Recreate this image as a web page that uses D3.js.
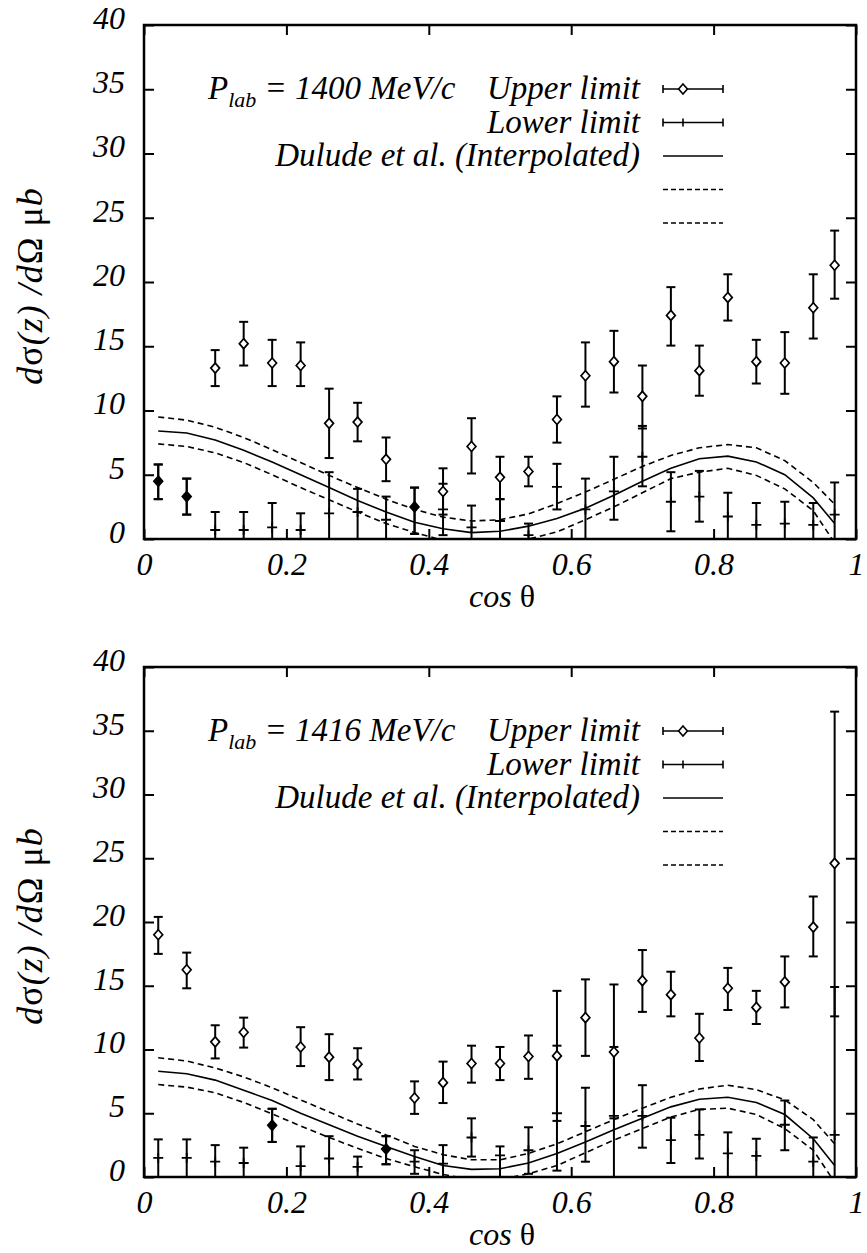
<!DOCTYPE html>
<html><head><meta charset="utf-8">
<script src="https://cdn.jsdelivr.net/npm/d3@7"></script>
<style>body{margin:0;background:#fff;} svg{display:block;}</style>
</head><body>
<svg id="chart" width="867" height="1253"></svg>
<script>
// ---------- shared axes ----------
const cosTheta = [0.02,0.06,0.10,0.14,0.18,0.22,0.26,0.30,0.34,0.38,0.42,0.46,0.50,0.54,0.58,0.62,0.66,0.70,0.74,0.78,0.82,0.86,0.90,0.94,0.97];
const xTicks = [0,0.2,0.4,0.6,0.8,1];
const xTickLabels = ["0","0.2","0.4","0.6","0.8","1"];
const yTicks = [0,5,10,15,20,25,30,35,40];
const yTickLabels = ["0","5","10","15","20","25","30","35","40"];
const legendLabels = ["Upper limit","Lower limit","Dulude et al. (Interpolated)","",""];

// ---------- panel A : 1400 MeV/c ----------
const upperA    = [4.5,3.3,13.3,15.2,13.7,13.5,9.0,9.1,6.2,2.5,3.7,7.2,4.8,5.25,9.3,12.7,13.8,11.1,17.4,13.1,18.8,13.8,13.7,18.0,21.3];
const upperA_lo = [3.1,1.9,11.9,13.5,11.9,11.9,6.3,7.6,4.5,0.4,1.9,5.1,3.1,4.1,7.5,10.3,11.4,8.6,15.05,11.15,17.0,12.1,11.3,15.6,18.7];
const upperA_hi = [5.8,4.7,14.7,16.9,15.5,15.3,11.7,10.6,7.9,4.0,5.5,9.4,6.4,6.4,11.1,15.3,16.2,13.5,19.6,15.05,20.6,15.5,16.1,20.6,24.0];
const lowerA    = [4.5,3.3,0.7,0.7,0.9,0.7,2.0,2.1,1.5,2.5,2.3,0.9,1.4,0.3,4.05,2.3,3.7,6.4,2.9,3.3,1.75,1.1,1.2,1.1,1.9];
const lowerA_lo = [3.1,1.9,0,0,0,0,0,0,0,0.4,0.3,0,0,0,2.3,0,1.5,4.1,0.6,1.35,0,0,0,0,0];
const lowerA_hi = [5.8,4.7,2.1,2.1,2.8,2.0,5.2,3.9,3.3,4.0,4.3,2.6,3.1,1.2,5.85,4.7,6.4,8.8,5.2,5.3,3.6,2.8,2.9,2.8,4.4];
const dulA      = [8.4,8.25,7.7,6.9,6.0,5.0,4.0,3.0,2.1,1.3,0.8,0.5,0.6,1.0,1.6,2.4,3.4,4.5,5.5,6.25,6.45,6.0,5.0,3.2,1.2];
const dulA_hi   = [9.5,9.25,8.7,7.9,6.95,5.95,4.95,4.0,3.1,2.3,1.7,1.4,1.5,1.95,2.75,3.65,4.65,5.65,6.5,7.1,7.35,7.1,6.1,4.4,2.7];
const dulA_lo   = [7.4,7.2,6.7,5.95,5.0,4.0,3.05,2.1,1.2,0.5,-0.1,-0.4,-0.4,0.0,0.55,1.5,2.5,3.6,4.7,5.2,5.5,4.95,3.9,2.2,-0.3];

// ---------- panel B : 1416 MeV/c ----------
const upperB    = [19.0,16.25,10.6,11.35,4.05,10.2,9.4,8.85,2.2,6.2,7.4,8.9,8.9,9.45,9.5,12.5,9.8,15.4,14.3,10.9,14.8,13.3,15.3,19.6,24.6];
const upperB_lo = [17.5,14.8,9.3,10.15,2.75,8.7,7.6,7.65,1.0,4.95,5.8,7.4,7.6,7.7,4.4,9.5,4.6,12.95,12.6,9.1,13.1,12.0,13.3,17.3,12.6];
const upperB_hi = [20.4,17.6,11.9,12.5,5.35,11.75,11.2,10.1,3.2,7.5,9.05,10.3,10.2,11.1,14.6,15.5,15.1,17.8,16.1,12.8,16.4,14.6,17.3,22.0,36.5];
const lowerB    = [1.5,1.5,1.2,1.1,4.05,0.85,1.45,0.8,2.2,1.2,1.05,3.1,1.7,2.1,5.0,4.0,4.8,4.8,2.9,3.3,1.85,1.65,4.1,1.2,3.3];
const lowerB_lo = [0,0,0,0,2.75,0,0,0,1.0,0.25,0,1.6,0,0.25,0.5,1.2,0,2.3,1.1,1.45,0,0,2.1,0,0];
const lowerB_hi = [2.95,2.95,2.5,2.3,5.35,2.4,3.2,1.6,3.2,2.1,2.5,4.6,2.4,3.9,10.3,7.0,10.2,7.2,4.65,5.3,3.5,3.0,6.0,3.1,14.9];
const dulB      = [8.3,8.1,7.6,6.8,6.0,5.0,4.1,3.2,2.4,1.6,0.9,0.6,0.65,1.1,1.85,2.75,3.7,4.6,5.5,6.1,6.25,5.85,4.9,3.0,0.9];
const dulB_hi   = [9.35,9.1,8.55,7.85,7.0,6.05,5.1,4.15,3.3,2.4,1.75,1.35,1.35,1.85,2.6,3.55,4.5,5.4,6.25,6.9,7.2,6.85,6.05,4.5,2.6];
const dulB_lo   = [7.25,7.05,6.6,5.85,4.95,4.0,3.1,2.25,1.45,0.8,0.2,-0.2,-0.2,0.25,0.9,1.9,2.9,3.8,4.7,5.3,5.4,4.9,3.8,2.1,-0.4];

const FONT = "'Liberation Serif','Times New Roman',serif";
const svg = d3.select("#chart");

function makeRows(u,ul,uh,l,ll,lh){
  return cosTheta.map((c,i)=>({c, u:u[i], ul:ul[i], uh:uh[i], l:l[i], ll:ll[i], lh:lh[i]}));
}

function drawPanel(cfg){
  const {top, bottom, label, rows, dul, dulHi, dulLo, id} = cfg;
  const left = 144, right = 856;
  const x = d3.scaleLinear().domain([0,1]).range([left,right]);
  const y = d3.scaleLinear().domain([0,40]).range([bottom,top]);
  const g = svg.append("g");

  g.append("clipPath").attr("id","clip"+id).append("rect")
    .attr("x",left).attr("y",top).attr("width",right-left).attr("height",bottom-top);

  // axes
  const axB = d3.axisBottom(x).tickValues(xTicks).tickFormat((d,i)=>xTickLabels[i]).tickSize(-10).tickPadding(13);
  const axT = d3.axisTop(x).tickValues(xTicks).tickFormat("").tickSize(-10);
  const axL = d3.axisLeft(y).tickValues(yTicks).tickFormat((d,i)=>yTickLabels[i]).tickSize(-10).tickPadding(19);
  const axR = d3.axisRight(y).tickValues(yTicks).tickFormat("").tickSize(-10);
  const gb = g.append("g").attr("transform",`translate(0,${bottom})`).call(axB);
  const gt = g.append("g").attr("transform",`translate(0,${top})`).call(axT);
  const gl = g.append("g").attr("transform",`translate(${left},0)`).call(axL);
  const gr = g.append("g").attr("transform",`translate(${right},0)`).call(axR);
  [gb,gt,gl,gr].forEach(a=>{
    a.select(".domain").remove();
    a.selectAll(".tick line").attr("stroke","#000").attr("stroke-width",2);
    a.selectAll(".tick text").attr("fill","#000").style("font-family",FONT)
      .style("font-style","italic").style("font-size","32px");
  });
  gl.selectAll(".tick text").attr("y",-7);

  // frame
  g.append("rect").attr("x",left).attr("y",top).attr("width",right-left).attr("height",bottom-top)
    .attr("fill","none").attr("stroke","#000").attr("stroke-width",2.5);

  // axis titles
  g.append("text").attr("x",(left+right)/2+2).attr("y",bottom+68).attr("text-anchor","middle")
    .style("font-family",FONT).style("font-size","32px")
    .call(t=>{ t.append("tspan").style("font-style","italic").text("cos "); t.append("tspan").text("θ"); });

  const yt = g.append("text").attr("transform",`translate(42,${(top+bottom)/2+4}) rotate(-90)`)
    .attr("text-anchor","middle").style("font-family",FONT).style("font-size","36px")
    .style("letter-spacing","1px");
  yt.append("tspan").style("font-style","italic").text("d");
  yt.append("tspan").text("σ");
  yt.append("tspan").style("font-style","italic").text("(z) /d");
  yt.append("tspan").text("Ω μ");
  yt.append("tspan").style("font-style","italic").text("b");

  // curves
  const cg = g.append("g").attr("clip-path",`url(#clip${id})`);
  const line = d3.line().x(d=>x(d[0])).y(d=>y(d[1]));
  const curves = [
    {v:dul, dash:null},
    {v:dulHi, dash:"6,4"},
    {v:dulLo, dash:"6,4"}
  ];
  curves.forEach(cv=>{
    cg.append("path").datum(cosTheta.map((c,i)=>[c,cv.v[i]]))
      .attr("d",line).attr("fill","none").attr("stroke","#000").attr("stroke-width",1.6)
      .attr("stroke-dasharray",cv.dash);
  });

  // error bars
  const cap = 4.5;
  const eg = g.append("g").attr("clip-path",`url(#clip${id})`).attr("stroke","#000").attr("stroke-width",2).attr("fill","none");
  function bars(acc){
    const b = eg.append("g").selectAll("g").data(rows).join("g");
    b.append("line").attr("x1",d=>x(d.c)).attr("x2",d=>x(d.c)).attr("y1",d=>y(acc(d)[0])).attr("y2",d=>y(acc(d)[1]));
    b.append("line").attr("x1",d=>x(d.c)-cap).attr("x2",d=>x(d.c)+cap).attr("y1",d=>y(acc(d)[0])).attr("y2",d=>y(acc(d)[0]));
    b.append("line").attr("x1",d=>x(d.c)-cap).attr("x2",d=>x(d.c)+cap).attr("y1",d=>y(acc(d)[1])).attr("y2",d=>y(acc(d)[1]));
  }
  bars(d=>[d.ll,d.lh]);
  bars(d=>[d.ul,d.uh]);
  const diamond = (cx,cy)=>`M${cx},${cy-5}L${cx+4.4},${cy}L${cx},${cy+5}L${cx-4.4},${cy}Z`;
  eg.append("g").selectAll("path").data(rows).join("path")
    .attr("d",d=>diamond(x(d.c),y(d.u)))
    .attr("fill",d=>d.l===d.u ? "#000" : "#fff").attr("stroke-width",1.7);
  eg.append("g").selectAll("path").data(rows.filter(d=>d.l!==d.u)).join("path")
    .attr("d",d=>`M${x(d.c)-5},${y(d.l)}H${x(d.c)+5}M${x(d.c)},${y(d.l)-5}V${y(d.l)+5}`).attr("stroke-width",1.8);

  // legend
  const rowY = legendLabels.map((s,i)=>top+64+i*33.5);
  const lx0 = 663, lx1 = 723, lp = 683;
  const lg = g.append("g");
  lg.selectAll("text.lab").data(legendLabels).join("text").attr("class","lab")
    .attr("x",640).attr("y",(d,i)=>rowY[i]+10).attr("text-anchor","end")
    .style("font-family",FONT).style("font-style","italic").style("font-size","33px").text(d=>d);
  [0,1].forEach(k=>{
    const yy = rowY[k];
    lg.append("line").attr("x1",lx0).attr("x2",lx1).attr("y1",yy).attr("y2",yy).attr("stroke","#000").attr("stroke-width",1.6);
    lg.append("line").attr("x1",lx0).attr("x2",lx0).attr("y1",yy-4).attr("y2",yy+4).attr("stroke","#000").attr("stroke-width",1.6);
    lg.append("line").attr("x1",lx1).attr("x2",lx1).attr("y1",yy-4).attr("y2",yy+4).attr("stroke","#000").attr("stroke-width",1.6);
  });
  lg.append("path").attr("d",diamond(lp,rowY[0])).attr("fill","#fff").attr("stroke","#000").attr("stroke-width",1.6);
  lg.append("path").attr("d",`M${lp},${rowY[1]-4}V${rowY[1]+4}`).attr("stroke","#000").attr("stroke-width",1.6);
  [[2,null],[3,"5,3"],[4,"5,3"]].forEach(([k,dash])=>{
    lg.append("line").attr("x1",lx0).attr("x2",lx1).attr("y1",rowY[k]).attr("y2",rowY[k])
      .attr("stroke","#000").attr("stroke-width",1.6).attr("stroke-dasharray",dash);
  });

  // P_lab label
  const pl = g.append("text").attr("x",208).attr("y",rowY[0]+10)
    .style("font-family",FONT).style("font-style","italic").style("font-size","33px");
  pl.append("tspan").text("P");
  pl.append("tspan").attr("dy",8).style("font-size","22px").text("lab");
  pl.append("tspan").attr("dy",-8).text(" = " + label);
}

drawPanel({id:"A", top:25, bottom:539, label:"1400 MeV/c",
  rows:makeRows(upperA,upperA_lo,upperA_hi,lowerA,lowerA_lo,lowerA_hi), dul:dulA, dulHi:dulA_hi, dulLo:dulA_lo});
drawPanel({id:"B", top:667, bottom:1177, label:"1416 MeV/c",
  rows:makeRows(upperB,upperB_lo,upperB_hi,lowerB,lowerB_lo,lowerB_hi), dul:dulB, dulHi:dulB_hi, dulLo:dulB_lo});
</script>
</body></html>
